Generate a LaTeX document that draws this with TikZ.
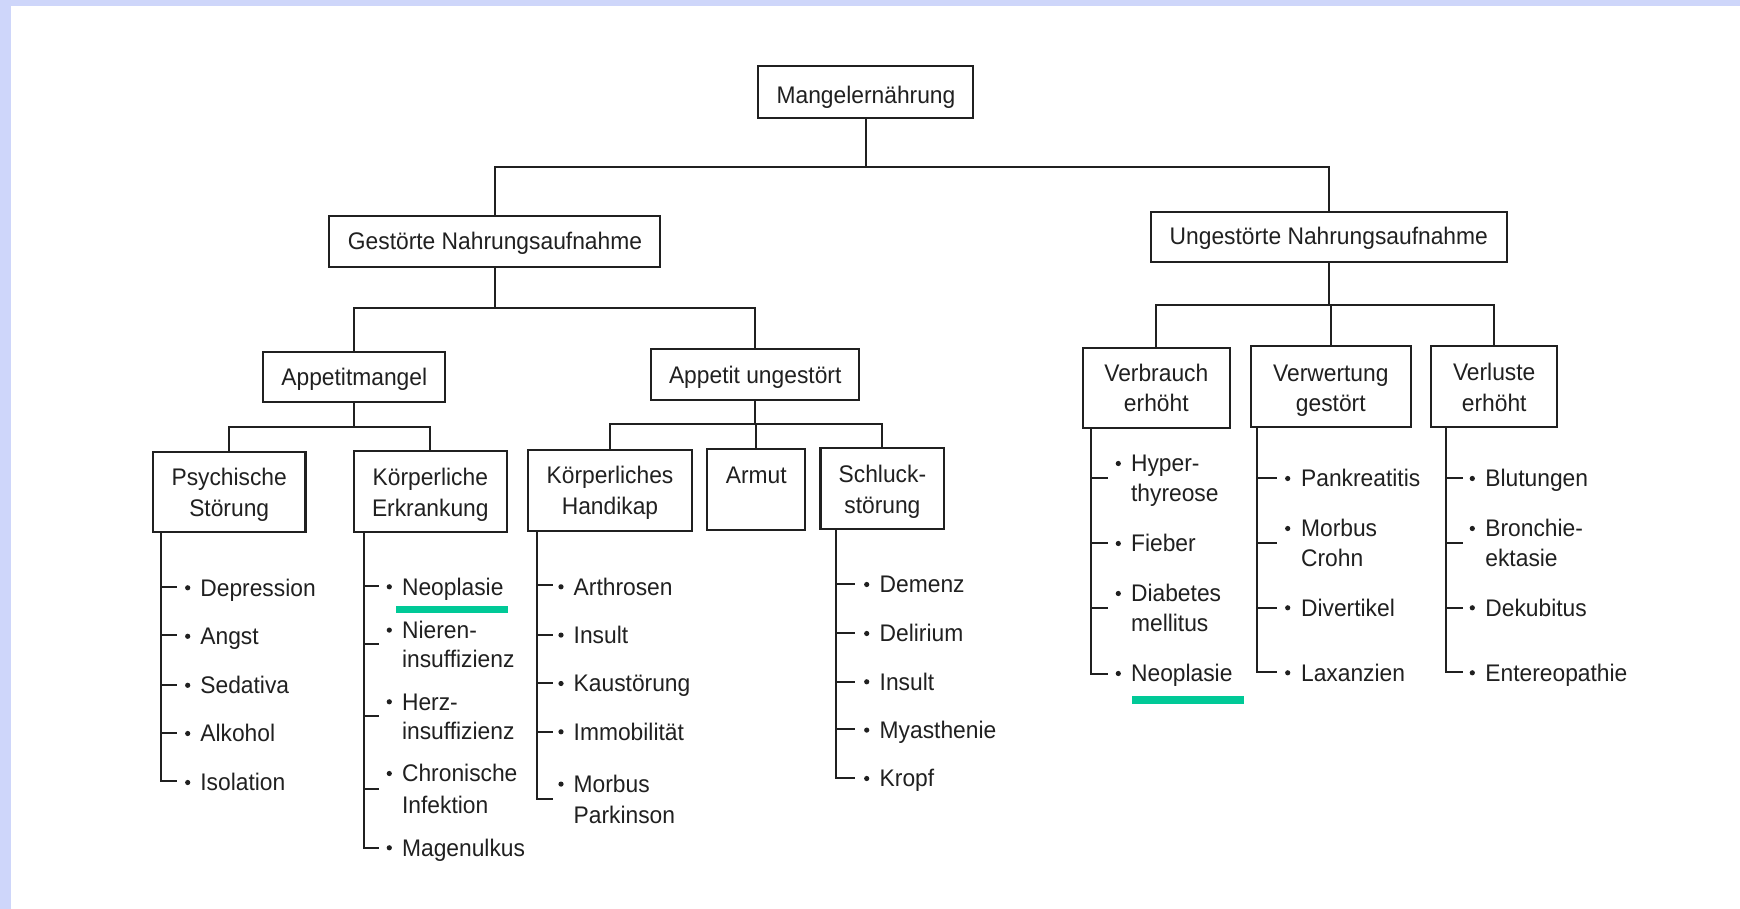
\documentclass[tikz,border=0pt]{standalone}
\usepackage{fontspec}
\setmainfont{Liberation Sans}[FakeStretch=0.95]
\definecolor{frameblue}{RGB}{206,214,250}
\definecolor{marker}{RGB}{0,201,151}
\definecolor{ink}{RGB}{32,32,32}
\newcommand{\mylitem}[5]{\fill[ink] (#2,#4-8.2) circle (1.3pt); \node[itxt] (#1) at (#3,#4) {#5};}
\begin{document}
\begin{tikzpicture}[x=0.5pt,y=-0.5pt,
  box/.style={draw=ink, line width=1.1pt, inner sep=0pt, rectangle},
  btxt/.style={anchor=base, inner sep=0pt, text=ink, font=\fontsize{12}{15}\selectfont},
  itxt/.style={anchor=base west, inner sep=0pt, text=ink, font=\fontsize{12}{15}\selectfont},
  conn/.style={draw=ink, line width=1pt},
]
\useasboundingbox (0,0) rectangle (1740,909);
\fill[white] (0,0) rectangle (1740,909);
\fill[frameblue] (0,0) rectangle (1740,6);
\fill[frameblue] (0,0) rectangle (11,909);

% ---------- boxes ----------
\node[box, minimum width=107.5pt, minimum height=26.15pt] (mangel) at (865.8,92.2) {};
\node[box, minimum width=165.5pt, minimum height=25.5pt] (gest) at (494.5,241.5) {};
\node[box, minimum width=177.85pt, minimum height=25.3pt] (ungest) at (1328.8,237) {};
\node[box, minimum width=91pt, minimum height=25pt] (appm) at (354.3,376.7) {};
\node[box, minimum width=104.15pt, minimum height=25.5pt] (appu) at (755.2,374.5) {};
\node[box, minimum width=76.2pt, minimum height=40.3pt] (psych) at (229.2,492) {};
\node[box, minimum width=76.35pt, minimum height=40.5pt] (koerpE) at (430.3,491.2) {};
\node[box, minimum width=81.7pt, minimum height=40.35pt] (handi) at (610,490.3) {};
\node[box, minimum width=48.85pt, minimum height=40.35pt] (armut) at (756.2,489.7) {};
\node[box, minimum width=61.9pt, minimum height=40.5pt] (schluck) at (882.4,488.8) {};
\node[box, minimum width=73.65pt, minimum height=39.85pt] (verb) at (1156.3,388.2) {};
\node[box, minimum width=79.85pt, minimum height=40.35pt] (verw) at (1330.8,386.3) {};
\node[box, minimum width=63.15pt, minimum height=40.5pt] (verl) at (1494.2,386.2) {};

% ---------- box texts ----------
\node[btxt] (tmangel) at (866,103.3) {Mangelernährung};
\node[btxt] (tgest) at (495,250) {Gestörte Nahrungsaufnahme};
\node[btxt] (tungest) at (1328.8,245) {Ungestörte Nahrungsaufnahme};
\node[btxt] (tappm) at (354.3,385) {Appetitmangel};
\node[btxt] (tappu) at (755.2,383) {Appetit ungestört};
\node[btxt] (tpsych1) at (229.2,485.2) {Psychische};
\node[btxt] (tpsych2) at (229.2,516.2) {Störung};
\node[btxt] (tkoerpE1) at (430.3,485) {Körperliche};
\node[btxt] (tkoerpE2) at (430.3,516) {Erkrankung};
\node[btxt] (thandi1) at (610,483.5) {Körperliches};
\node[btxt] (thandi2) at (610,514.5) {Handikap};
\node[btxt] (tarmut) at (756.2,483.3) {Armut};
\node[btxt] (tschluck1) at (882.4,482.7) {Schluck-};
\node[btxt] (tschluck2) at (882.4,513.5) {störung};
\node[btxt] (tverb1) at (1156.3,381.7) {Verbrauch};
\node[btxt] (tverb2) at (1156.3,411.7) {erhöht};
\node[btxt] (tverw1) at (1330.8,381.7) {Verwertung};
\node[btxt] (tverw2) at (1330.8,411.7) {gestört};
\node[btxt] (tverl1) at (1494.2,380.5) {Verluste};
\node[btxt] (tverl2) at (1494.2,411.7) {erhöht};

% ---------- tree connectors ----------
\coordinate (busA) at (0,167);
\draw[conn] (mangel.south) -- (mangel.south |- busA);
\draw[conn] (gest.north) |- (busA -| ungest.north) -- (ungest.north);

\coordinate (busB) at (0,307.8);
\draw[conn] (gest.south) -- (gest.south |- busB);
\draw[conn] (appm.north) |- (busB -| appu.north) -- (appu.north);

\coordinate (busC) at (0,426.5);
\draw[conn] (appm.south) -- (appm.south |- busC);
\draw[conn] (psych.north) |- (busC -| koerpE.north) -- (koerpE.north);

\coordinate (busD) at (0,424.3);
\draw[conn] (appu.south) -- (appu.south |- busD);
\draw[conn] (handi.north) |- (busD -| schluck.north) -- (schluck.north);
\draw[conn] (armut.north) -- (armut.north |- busD);

\coordinate (busE) at (0,305);
\draw[conn] (ungest.south) -- (ungest.south |- busE);
\draw[conn] (verb.north) |- (busE -| verl.north) -- (verl.north);
\draw[conn] (verw.north) -- (verw.north |- busE);

% ---------- list: Psychische Stoerung ----------
\coordinate (psV) at ([shift={(9.4,0)}]psych.south west);
\foreach \n/\y in {ps1/586.7, ps2/635, ps3/684.5, ps4/732.5, ps5/781.3} \coordinate (\n) at (176.7,\y);
\draw[conn] (psV) |- (ps5);
\foreach \n in {ps1,ps2,ps3,ps4} \draw[conn] (psV |- \n) -- (\n);
\mylitem{ips1}{187.7}{200}{596}{Depression}
\mylitem{ips2}{187.7}{200}{644.5}{Angst}
\mylitem{ips3}{187.7}{200}{693.5}{Sedativa}
\mylitem{ips4}{187.7}{200}{741.7}{Alkohol}
\mylitem{ips5}{187.7}{200}{790.7}{Isolation}

% ---------- list: Koerperliche Erkrankung ----------
\coordinate (keV) at ([shift={(11,0)}]koerpE.south west);
\foreach \n/\y in {ke1/585.7, ke2/644, ke3/716, ke4/789, ke5/848.3} \coordinate (\n) at (379.3,\y);
\draw[conn] (keV) |- (ke5);
\foreach \n in {ke1,ke2,ke3,ke4} \draw[conn] (keV |- \n) -- (\n);
\mylitem{ike1}{389.3}{401.7}{595}{Neoplasie}
\mylitem{ike2}{389.3}{401.7}{638.3}{Nieren-}
\node[itxt] (ike2b) at (401.7,667.3) {insuffizienz};
\mylitem{ike3}{389.3}{401.7}{710}{Herz-}
\node[itxt] (ike3b) at (401.7,739.3) {insuffizienz};
\mylitem{ike4}{389.3}{401.7}{781.7}{Chronische}
\node[itxt] (ike4b) at (401.7,813.3) {Infektion};
\mylitem{ike5}{389.3}{401.7}{856}{Magenulkus}
\fill[marker] (396,605.7) rectangle (507.7,613.3);

% ---------- list: Koerperliches Handikap ----------
\coordinate (khV) at ([shift={(10,0)}]handi.south west);
\foreach \n/\y in {kh1/585, kh2/635, kh3/683.3, kh4/731.7, kh5/799} \coordinate (\n) at (553.3,\y);
\draw[conn] (khV) |- (kh5);
\foreach \n in {kh1,kh2,kh3,kh4} \draw[conn] (khV |- \n) -- (\n);
\mylitem{ikh1}{561}{573.3}{595}{Arthrosen}
\mylitem{ikh2}{561}{573.3}{643.3}{Insult}
\mylitem{ikh3}{561}{573.3}{691.7}{Kaustörung}
\mylitem{ikh4}{561}{573.3}{740}{Immobilität}
\mylitem{ikh5}{561}{573.3}{792.3}{Morbus}
\node[itxt] (ikh5b) at (573.3,823.3) {Parkinson};

% ---------- list: Schluckstoerung ----------
\coordinate (slV) at ([shift={(16.8,0)}]schluck.south west);
\foreach \n/\y in {sl1/584.3, sl2/633.3, sl3/681.7, sl4/729, sl5/778.3} \coordinate (\n) at (855.3,\y);
\draw[conn] (slV) |- (sl5);
\foreach \n in {sl1,sl2,sl3,sl4} \draw[conn] (slV |- \n) -- (\n);
\mylitem{isl1}{866.7}{879.3}{592.7}{Demenz}
\mylitem{isl2}{866.7}{879.3}{641.7}{Delirium}
\mylitem{isl3}{866.7}{879.3}{690}{Insult}
\mylitem{isl4}{866.7}{879.3}{738.3}{Myasthenie}
\mylitem{isl5}{866.7}{879.3}{786.7}{Kropf}

% ---------- list: Verbrauch erhoeht ----------
\coordinate (vbV) at ([shift={(9,0)}]verb.south west);
\foreach \n/\y in {vb1/478.3, vb2/542.7, vb3/608.3, vb4/674} \coordinate (\n) at (1107.7,\y);
\draw[conn] (vbV) |- (vb4);
\foreach \n in {vb1,vb2,vb3} \draw[conn] (vbV |- \n) -- (\n);
\mylitem{ivb1}{1118.3}{1130.7}{471.7}{Hyper-}
\node[itxt] (ivb1b) at (1130.7,501.7) {thyreose};
\mylitem{ivb2}{1118.3}{1130.7}{551.7}{Fieber}
\mylitem{ivb3}{1118.3}{1130.7}{601.7}{Diabetes}
\node[itxt] (ivb3b) at (1130.7,631.7) {mellitus};
\mylitem{ivb4}{1118.3}{1130.7}{681.7}{Neoplasie}
\fill[marker] (1132,696) rectangle (1244,704);

% ---------- list: Verwertung gestoert ----------
\coordinate (vwV) at ([shift={(7.3,0)}]verw.south west);
\foreach \n/\y in {vw1/478.3, vw2/542.7, vw3/607.7, vw4/672.3} \coordinate (\n) at (1277.3,\y);
\draw[conn] (vwV) |- (vw4);
\foreach \n in {vw1,vw2,vw3} \draw[conn] (vwV |- \n) -- (\n);
\mylitem{ivw1}{1287.7}{1300.7}{486.7}{Pankreatitis}
\mylitem{ivw2}{1287.7}{1300.7}{536.7}{Morbus}
\node[itxt] (ivw2b) at (1300.7,566.7) {Crohn};
\mylitem{ivw3}{1287.7}{1300.7}{616}{Divertikel}
\mylitem{ivw4}{1287.7}{1300.7}{681}{Laxanzien}

% ---------- list: Verluste erhoeht ----------
\coordinate (vlV) at ([shift={(16.3,0)}]verl.south west);
\foreach \n/\y in {vl1/478.3, vl2/542.7, vl3/607.7, vl4/672.3} \coordinate (\n) at (1462.7,\y);
\draw[conn] (vlV) |- (vl4);
\foreach \n in {vl1,vl2,vl3} \draw[conn] (vlV |- \n) -- (\n);
\mylitem{ivl1}{1472.3}{1485}{486.7}{Blutungen}
\mylitem{ivl2}{1472.3}{1485}{536.7}{Bronchie-}
\node[itxt] (ivl2b) at (1485,566.7) {ektasie};
\mylitem{ivl3}{1472.3}{1485}{616}{Dekubitus}
\mylitem{ivl4}{1472.3}{1485}{681}{Entereopathie}
\end{tikzpicture}
\end{document}
